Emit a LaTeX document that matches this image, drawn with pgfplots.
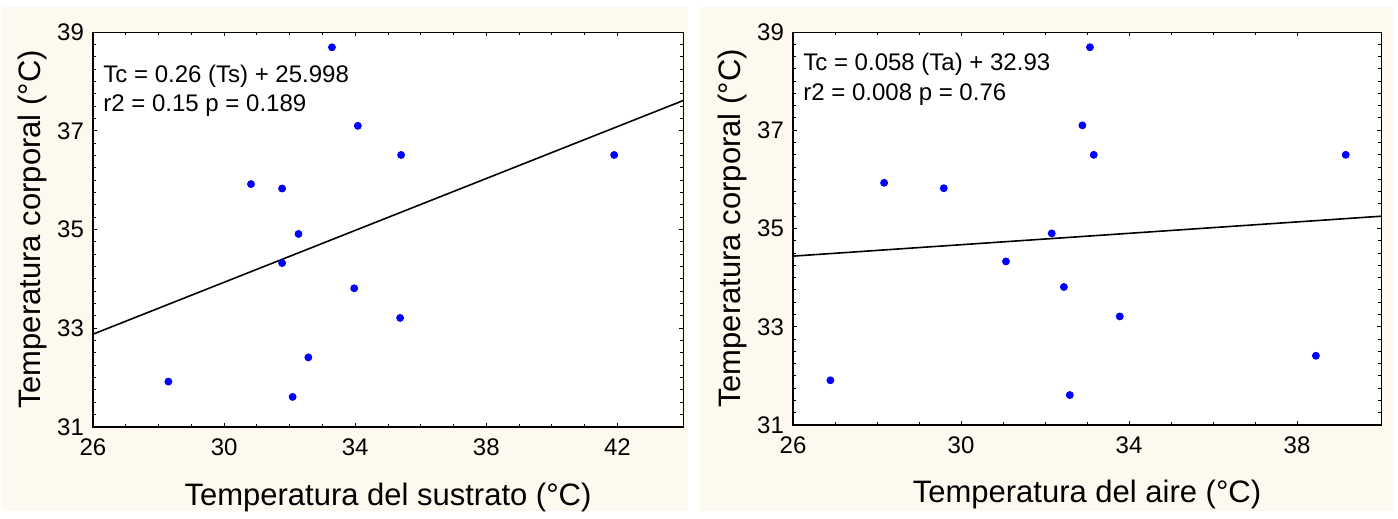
\documentclass[border=0pt]{standalone}
\usepackage{fontspec}
\setmainfont{Liberation Sans}
\usepackage{pgfplots}
\pgfplotsset{compat=1.18}
\definecolor{cream}{RGB}{253,249,238}
\definecolor{dotblue}{RGB}{0,0,255}

% Tc (body temperature) against substrate and air temperature
\pgfplotstableread{
ts     tc
33.29  38.69
34.08  37.10
35.40  36.51
41.90  36.51
30.82  35.92
31.77  35.83
32.27  34.91
31.77  34.32
33.97  33.81
35.37  33.21
32.57  32.41
28.30  31.92
32.09  31.61
}\sustrato
\pgfplotstableread{
ta     tc
33.07  38.69
32.89  37.10
33.16  36.50
39.16  36.50
28.17  35.93
29.59  35.82
32.16  34.90
31.07  34.33
32.45  33.81
33.78  33.21
38.45  32.41
26.89  31.91
32.59  31.61
}\aire

\tikzset{note/.style={anchor=base west, inner sep=0pt, font=\fontsize{12}{14}\selectfont}}

\pgfplotsset{
  panel/.style={
    scale only axis, anchor=south west,
    axis background/.style={fill=white},
    ymin=31, ymax=39, ytick={31,33,...,39},
    minor y tick num=7, minor x tick num=3,
    tick align=inside, major tick length=2.2pt, minor tick length=1.3pt,
    tick style={black, line width=0.5pt},
    axis line style={line width=0.5pt},
    /pgf/number format/assume math mode=true,
    ticklabel style={font=\fontsize{12}{14}\selectfont},
    yticklabel style={xshift=-1pt},
    xticklabel style={yshift=-2.5pt},
    label style={font=\fontsize{15.5}{18}\selectfont},
    xlabel style={at={(axis description cs:0.5,-0.1975)}, anchor=base},
    ylabel={Temperatura corporal (°C)},
    after end axis/.code={
      \draw[line width=1pt] (rel axis cs:0,1) -- (rel axis cs:0,0) -- (rel axis cs:1,0);
    },
  },
  dots/.style={only marks, mark=*, mark size=1.75pt, dotblue},
  fit/.style={black, line width=0.8pt, no marks},
}

\begin{document}
\begin{tikzpicture}
\path (0,0) rectangle (699pt,256pt);
\fill[cream] (1pt,0.5pt) rectangle (344pt,252.5pt);
\fill[cream] (350pt,0.5pt) rectangle (696.5pt,252.5pt);

\begin{axis}[panel,
    at={(46.5pt,42.5pt)}, width=295pt, height=197.5pt,
    xmin=26, xmax=44, xtick={26,30,...,42},
    xlabel={Temperatura del sustrato (°C)},
    ylabel style={at={(axis description cs:-0.0898,0.5)}, anchor=base},
]
\addplot[fit] coordinates {(26,32.88) (44,37.61)};
\addplot[dots] table[x=ts, y=tc] {\sustrato};
\node[note] at (rel axis cs:0.017,0.873) {Tc = 0.26 (Ts) + 25.998};
\node[note] at (rel axis cs:0.017,0.800) {r2 = 0.15 p = 0.189};
\end{axis}

\begin{axis}[panel,
    at={(396.5pt,43.5pt)}, width=294pt, height=196.5pt,
    xmin=26, xmax=40, xtick={26,30,...,38},
    xlabel={Temperatura del aire (°C)},
    ylabel style={at={(axis description cs:-0.0901,0.5)}, anchor=base},
]
\addplot[fit] coordinates {(26,34.438) (40,35.25)};
\addplot[dots] table[x=ta, y=tc] {\aire};
\node[note] at (rel axis cs:0.017,0.903) {Tc = 0.058 (Ta) + 32.93};
\node[note] at (rel axis cs:0.017,0.827) {r2 = 0.008 p = 0.76};
\end{axis}
\end{tikzpicture}
\end{document}
